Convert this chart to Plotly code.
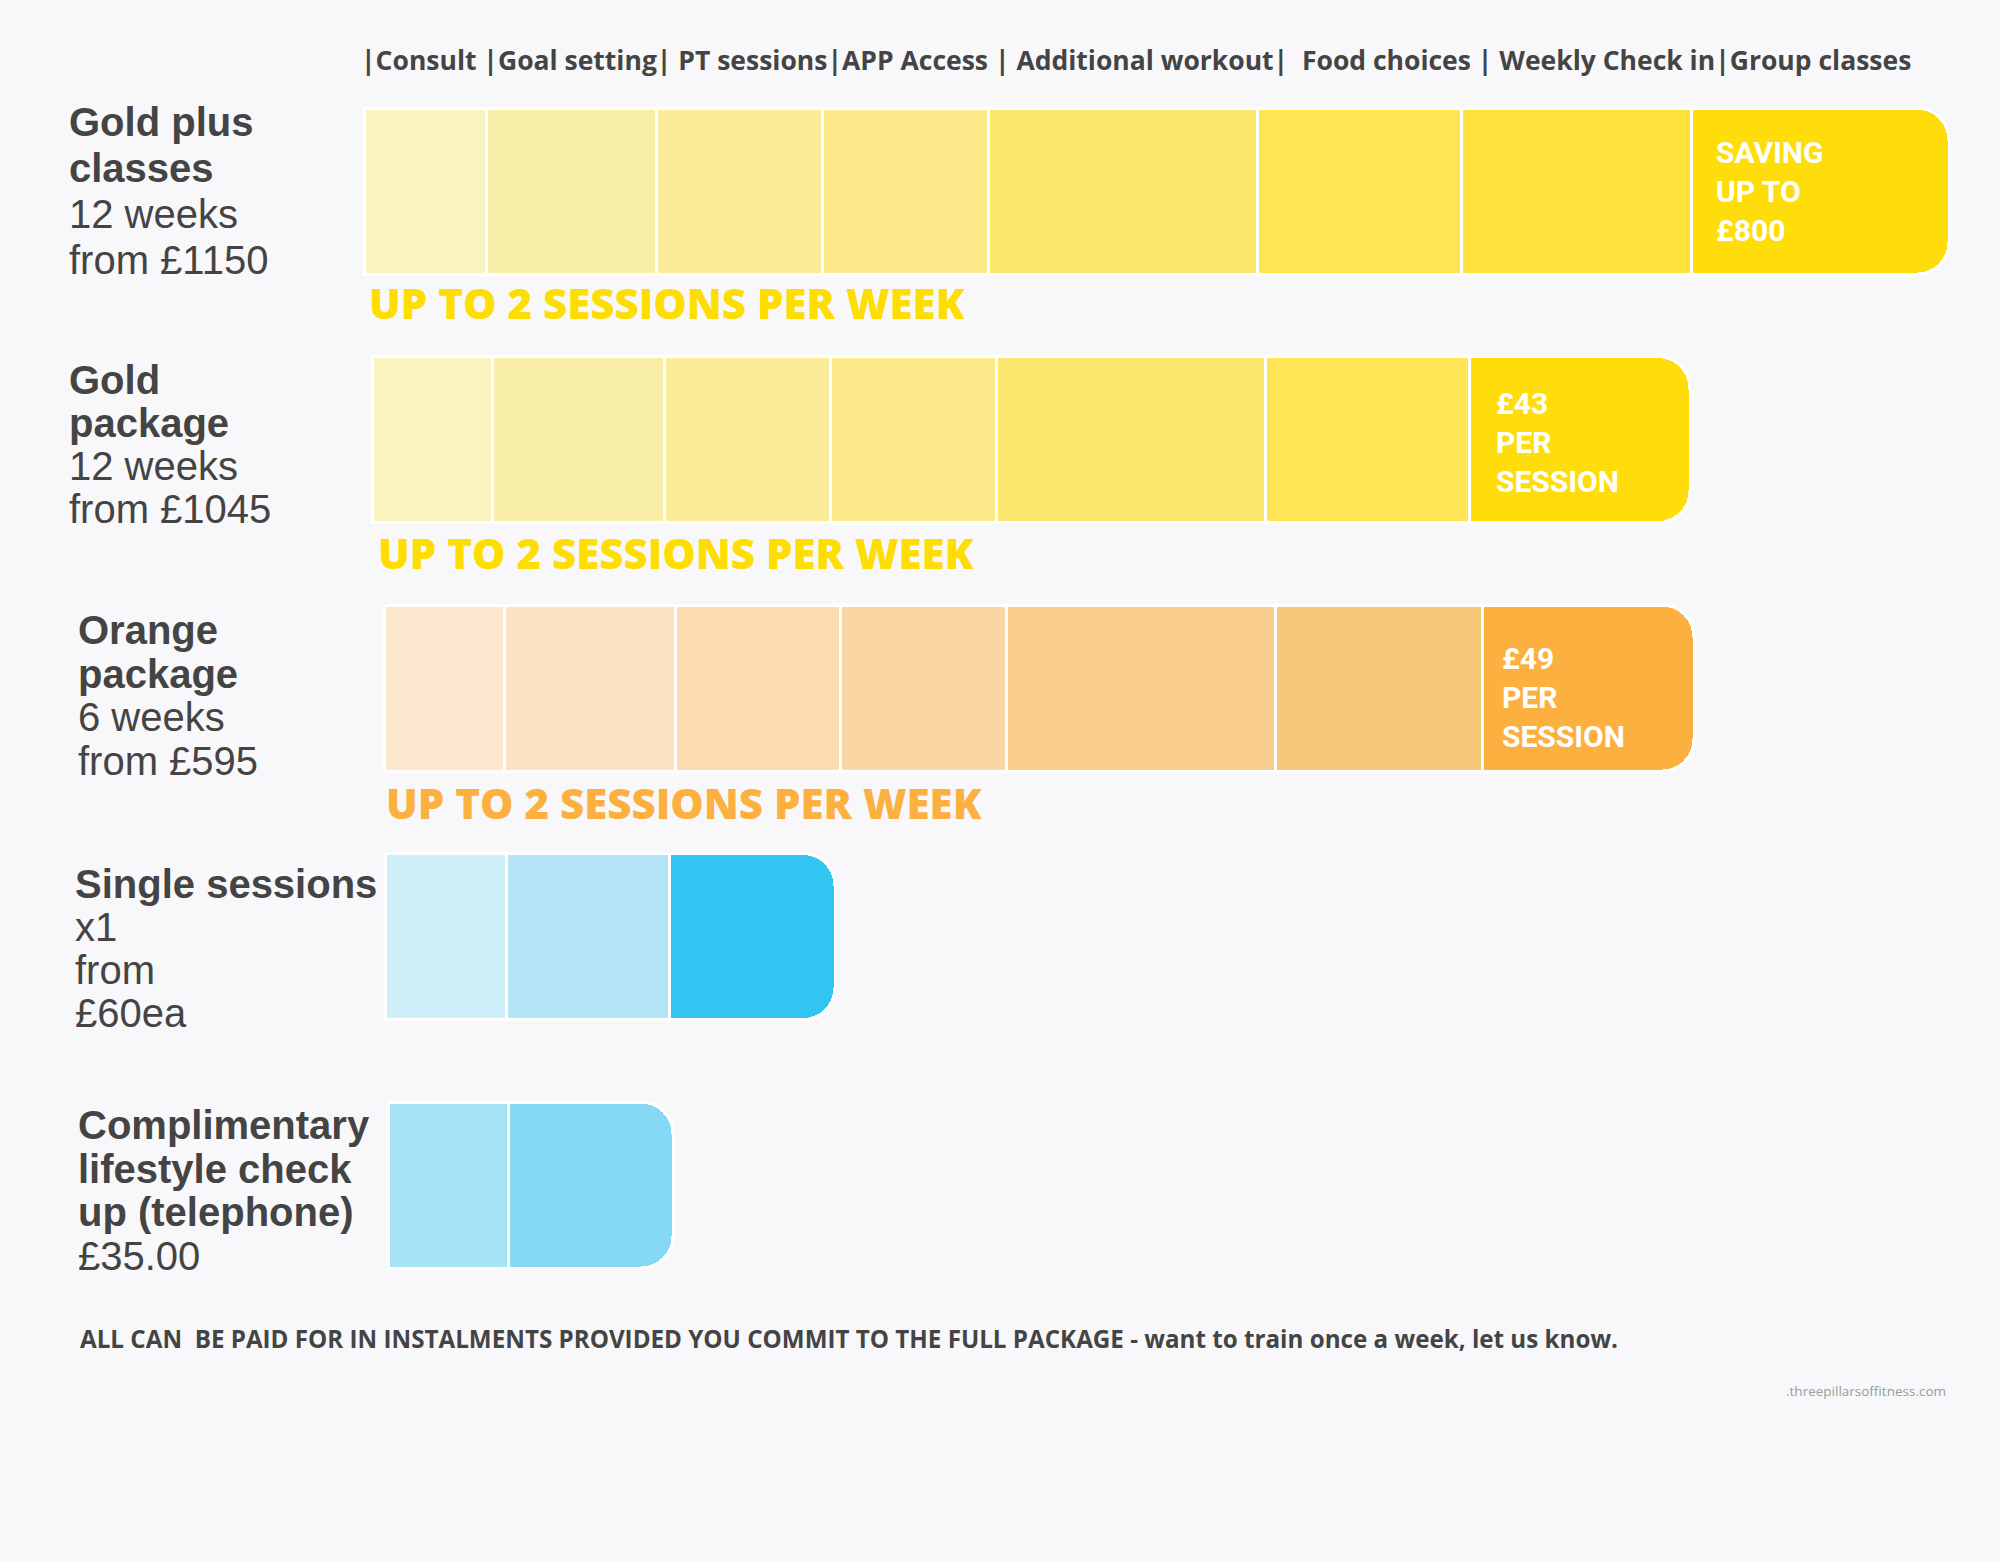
import plotly.graph_objects as go

# Package price ladder - each coloured block is one feature included in the package

# Packages, top to bottom
packages = ['Gold plus classes', 'Gold package', 'Orange package', 'Single sessions', 'Complimentary check up']

# Left hand labels: bold title lines, then detail lines
package_titles = [
    ['Gold plus', 'classes'],
    ['Gold', 'package'],
    ['Orange', 'package'],
    ['Single sessions'],
    ['Complimentary', 'lifestyle check', 'up (telephone)'],
]
package_details = [
    ['12 weeks', 'from £1150'],
    ['12 weeks', 'from £1045'],
    ['6 weeks', 'from £595'],
    ['x1', 'from', '£60ea'],
    ['£35.00'],
]

# Where each bar starts and the length of every feature block
bar_start = [364, 372, 384, 385, 388]
gold_plus_blocks = [122, 170, 166, 166, 269, 204, 230, 258]
gold_blocks = [120, 172, 166, 166, 269, 204, 221]
orange_blocks = [120, 171, 165, 166, 269, 207, 212]
single_blocks = [121, 163, 166]
check_up_blocks = [120, 165]
all_blocks = [gold_plus_blocks, gold_blocks, orange_blocks, single_blocks, check_up_blocks]

# Colours of the blocks, light to strong
gold_plus_colors = ['#FAF2BF', '#F9EEA8', '#FBEC99', '#FBE98A', '#FBE66E', '#FDE553', '#FEE13A', '#FEDD0A']
gold_colors = ['#FAF2BF', '#F9EEA8', '#FBEC99', '#FBE98A', '#FBE66E', '#FDE553', '#FEDD0A']
orange_colors = ['#FCE8CF', '#FBE2C2', '#FBDCB1', '#FAD6A2', '#F9CD8C', '#F9C77A', '#FBB040']
single_colors = ['#CEEEF8', '#B3E5F6', '#32C5F1']
check_up_colors = ['#A3E3F5', '#86D9F4']
all_colors = [gold_plus_colors, gold_colors, orange_colors, single_colors, check_up_colors]

# Header naming the features
header = ('|Consult |Goal setting| PT sessions|APP Access | Additional workout|  '
          'Food choices | Weekly Check in|Group classes')

# Text inside the last block of the bigger packages
end_texts = ['SAVING<br>UP TO<br>£800', '£43<br>PER<br>SESSION', '£49<br>PER<br>SESSION']
sessions_text = 'UP TO 2 SESSIONS PER WEEK'
sessions_colors = ['#FEDD00', '#FEDD00', '#FBB040']

footer = ('ALL CAN  BE PAID FOR IN INSTALMENTS PROVIDED YOU COMMIT TO THE FULL PACKAGE '
          '- want to train once a week, let us know.')
website = '.threepillarsoffitness.com'

W, H = 2000, 1562
bg = '#F8F8FA'
dark = '#444444'

fig = go.Figure()

# One stack per package: transparent spacer first, then the blocks
for i, pkg in enumerate(packages):
    fig.add_trace(go.Bar(
        x=[bar_start[i]], y=[pkg], orientation='h',
        marker=dict(color='rgba(0,0,0,0)', line=dict(width=0)),
        hoverinfo='skip', showlegend=False
    ))
    for length, color in zip(all_blocks[i], all_colors[i]):
        fig.add_trace(go.Bar(
            x=[length], y=[pkg], orientation='h',
            marker=dict(color=color, line=dict(color='white', width=3)),
            hoverinfo='skip', showlegend=False
        ))


def py(pix):
    # pixel row (from top) to paper y
    return 1 - pix / H


annotations = []

# Header line
annotations.append(dict(
    x=359, y=py(60), xref='x', yref='paper', xanchor='left', yanchor='middle',
    text=header, showarrow=False,
    font=dict(family='Open Sans', size=26.5, color=dark, weight='bold')
))

# Package labels on the left, one annotation per line
label_x = [67, 67, 76, 73, 76]
label_first_y = [122, 380, 630, 884, 1125]
line_pitch = [46, 43, 43.5, 43, 43.5]
for i in range(len(packages)):
    lines = [('<b>' + t + '</b>') for t in package_titles[i]] + package_details[i]
    for k, line in enumerate(lines):
        annotations.append(dict(
            x=label_x[i], y=py(label_first_y[i] + k * line_pitch[i]),
            xref='x', yref='paper', xanchor='left', yanchor='middle',
            text=line, showarrow=False,
            font=dict(family='Liberation Sans', size=40, color=dark)
        ))

# Sessions per week under the first three bars
session_x = [367, 376, 384]
session_y = [302, 552, 802]
for sx, sy, sc in zip(session_x, session_y, sessions_colors):
    annotations.append(dict(
        x=sx, y=py(sy), xref='x', yref='paper', xanchor='left', yanchor='middle',
        text=sessions_text, showarrow=False,
        font=dict(family='Open Sans', size=42, color=sc, weight=800)
    ))

# White text in the end blocks
end_x = [1714, 1494, 1500]
end_y = [192, 442, 697]
for ex, ey, et in zip(end_x, end_y, end_texts):
    annotations.append(dict(
        x=ex, y=py(ey), xref='x', yref='paper', xanchor='left', yanchor='middle',
        text=et, showarrow=False, align='left',
        font=dict(family='Roboto', size=30, color='white', weight='bold')
    ))

# Footer note and website
annotations.append(dict(
    x=78, y=py(1338), xref='x', yref='paper', xanchor='left', yanchor='middle',
    text=footer, showarrow=False,
    font=dict(family='Open Sans', size=24.2, color=dark, weight='bold')
))
annotations.append(dict(
    x=1948, y=py(1391), xref='x', yref='paper', xanchor='right', yanchor='middle',
    text=website, showarrow=False,
    font=dict(family='Open Sans', size=13.5, color='#9A9A9A')
))

fig.update_layout(
    width=W, height=H,
    barmode='stack',
    bargap=0.332,
    barcornerradius=32,
    paper_bgcolor=bg, plot_bgcolor=bg,
    margin=dict(l=0, r=0, t=0, b=0),
    showlegend=False,
    annotations=annotations,
    xaxis=dict(range=[0, W], visible=False, fixedrange=True),
    # rows evenly spaced: first centre at 191px, last at 1185px
    yaxis=dict(range=[5.517, -0.769], visible=False, fixedrange=True,
               categoryorder='array', categoryarray=packages),
)

# drop the page margin so the figure fills the window
fig.write_html("out.html", config={'displayModeBar': False},
               post_script="document.body.style.margin='0';document.body.style.overflow='hidden';")
